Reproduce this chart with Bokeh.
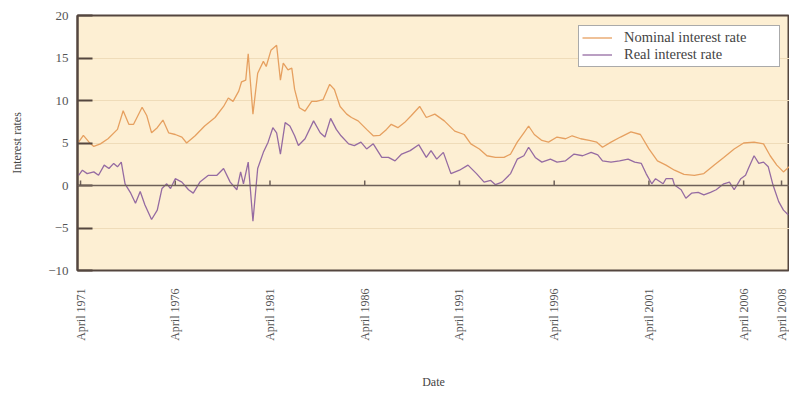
import math
from bokeh.plotting import figure
from bokeh.models import Range1d, FixedTicker, Span, Legend, LegendItem
from bokeh.embed import file_html
from bokeh.resources import INLINE

# ---- data ----
nom_year = [1971.15, 1971.4, 1971.7, 1971.95, 1972.3, 1972.7, 1973.2, 1973.5, 1973.8, 1974.05,
            1974.5, 1974.75, 1975.0, 1975.3, 1975.6, 1975.9, 1976.25, 1976.6, 1976.85, 1977.3,
            1977.8, 1978.35, 1978.8, 1979.05, 1979.3, 1979.6, 1979.75, 1979.97, 1980.1, 1980.35,
            1980.6, 1980.9, 1981.05, 1981.3, 1981.6, 1981.8, 1981.95, 1982.2, 1982.4, 1982.55,
            1982.8, 1983.1, 1983.45, 1983.7, 1984.05, 1984.4, 1984.65, 1984.95, 1985.3, 1985.55,
            1985.9, 1986.35, 1986.7, 1987.05, 1987.4, 1987.65, 1988.0, 1988.35, 1988.7, 1989.15,
            1989.5, 1989.95, 1990.45, 1991.0, 1991.5, 1991.85, 1992.3, 1992.7, 1993.15, 1993.6,
            1993.95, 1994.3, 1994.65, 1994.9, 1995.2, 1995.6, 1995.95, 1996.4, 1996.85, 1997.2,
            1997.65, 1998.1, 1998.5, 1998.8, 1999.25, 1999.75, 2000.3, 2000.8, 2001.25, 2001.7,
            2002.15, 2002.6, 2003.1, 2003.65, 2004.15, 2004.7, 2005.2, 2005.75, 2006.25, 2006.8,
            2007.3, 2007.65, 2008.0, 2008.35, 2008.65]
nominal = [5.1, 5.9, 5.1, 4.6, 4.9, 5.5, 6.6, 8.8, 7.2, 7.2,
           9.2, 8.2, 6.2, 6.8, 7.7, 6.2, 6.0, 5.7, 5.0, 5.85,
           7.0, 8.0, 9.3, 10.3, 9.9, 11.1, 12.2, 12.4, 15.5, 8.4,
           13.2, 14.6, 14.0, 15.9, 16.5, 12.4, 14.4, 13.6, 13.8, 11.3,
           9.15, 8.75, 9.9, 9.9, 10.1, 11.9, 11.3, 9.3, 8.4, 8.0,
           7.6, 6.6, 5.85, 5.9, 6.6, 7.2, 6.8, 7.4, 8.2, 9.3,
           8.0, 8.4, 7.6, 6.4, 6.0, 4.9, 4.3, 3.5, 3.3, 3.3,
           3.7, 5.1, 6.2, 7.0, 6.0, 5.3, 5.1, 5.7, 5.5, 5.85,
           5.5, 5.3, 5.1, 4.5, 5.1, 5.7, 6.3, 6.0, 4.3, 2.9,
           2.4, 1.8, 1.3, 1.2, 1.4, 2.4, 3.3, 4.3, 5.0, 5.1,
           4.9, 3.5, 2.4, 1.6, 2.2]

real_year = [1971.15, 1971.35, 1971.6, 1971.95, 1972.2, 1972.5, 1972.75, 1973.0, 1973.2, 1973.4,
             1973.6, 1973.9, 1974.15, 1974.4, 1974.65, 1975.0, 1975.3, 1975.55, 1975.8, 1976.0,
             1976.25, 1976.6, 1976.95, 1977.2, 1977.55, 1978.0, 1978.45, 1978.8, 1979.15, 1979.5,
             1979.7, 1979.85, 1980.1, 1980.35, 1980.6, 1980.9, 1981.15, 1981.4, 1981.6, 1981.8,
             1982.05, 1982.3, 1982.55, 1982.75, 1983.1, 1983.55, 1983.9, 1984.15, 1984.45, 1984.75,
             1985.0, 1985.4, 1985.7, 1986.05, 1986.35, 1986.7, 1987.15, 1987.5, 1987.85, 1988.2,
             1988.65, 1989.1, 1989.5, 1989.75, 1990.05, 1990.4, 1990.8, 1991.25, 1991.7, 1992.15,
             1992.55, 1992.9, 1993.15, 1993.5, 1993.95, 1994.3, 1994.65, 1994.9, 1995.25, 1995.6,
             1996.05, 1996.4, 1996.85, 1997.3, 1997.75, 1998.2, 1998.55, 1998.8, 1999.25, 1999.7,
             2000.15, 2000.5, 2000.85, 2001.1, 2001.4, 2001.6, 2002.0, 2002.15, 2002.5, 2002.6,
             2002.95, 2003.2, 2003.5, 2003.85, 2004.15, 2004.5, 2004.8, 2005.2, 2005.5, 2005.75,
             2006.1, 2006.35, 2006.5, 2006.8, 2007.05, 2007.3, 2007.55, 2007.8, 2008.1, 2008.35,
             2008.6]
real = [1.2, 1.8, 1.4, 1.6, 1.2, 2.4, 2.0, 2.6, 2.2, 2.75,
        0.2, -0.9, -2.1, -0.7, -2.3, -4.0, -2.9, -0.35, 0.2, -0.35,
        0.8, 0.4, -0.5, -0.9, 0.4, 1.2, 1.2, 2.0, 0.4, -0.5,
        1.6, 0.2, 2.75, -4.2, 2.0, 3.9, 5.1, 6.8, 6.2, 3.7,
        7.4, 7.0, 5.85, 4.7, 5.5, 7.6, 6.2, 5.7, 7.9, 6.6,
        5.85, 4.9, 4.7, 5.1, 4.3, 4.9, 3.3, 3.3, 2.9, 3.7,
        4.1, 4.8, 3.3, 4.1, 3.1, 3.9, 1.4, 1.8, 2.4, 1.4,
        0.4, 0.6, 0.1, 0.4, 1.4, 3.1, 3.5, 4.5, 3.3, 2.75,
        3.1, 2.75, 2.9, 3.7, 3.5, 3.9, 3.6, 2.9, 2.75, 2.9,
        3.1, 2.75, 2.6, 1.4, 0.2, 0.8, 0.2, 0.8, 0.8, 0.05,
        -0.5, -1.5, -0.9, -0.8, -1.1, -0.8, -0.5, 0.2, 0.4, -0.5,
        0.8, 1.2, 2.0, 3.5, 2.6, 2.75, 2.2, 0.05, -1.9, -2.9,
        -3.45]

x_ticks = [1971.25, 1976.25, 1981.25, 1986.25, 1991.25, 1996.25, 2001.25, 2006.25, 2008.25]
x_labels = ["April 1971", "April 1976", "April 1981", "April 1986", "April 1991",
            "April 1996", "April 2001", "April 2006", "April 2008"]
y_ticks = [-10, -5, 0, 5, 10, 15, 20]

SERIF = "Liberation Serif"
NOM_COLOR = "#e6a060"
REAL_COLOR = "#956ba2"
DARK = "#54463f"

p = figure(width=789, height=391, output_backend="svg", toolbar_location=None,
           x_range=Range1d(1971.09, 2008.67), y_range=Range1d(-10, 20),
           min_border_left=77, min_border_right=0, min_border_top=15, min_border_bottom=118)

p.background_fill_color = "#fdefd3"
p.border_fill_color = "white"
p.outline_line_color = DARK
p.outline_line_width = 2

# grid
p.xgrid.visible = False
p.ygrid.ticker = FixedTicker(ticks=[-5, 5, 10, 15])
p.ygrid.grid_line_color = "#efdcb9"
p.ygrid.grid_line_width = 1.2

# zero line
p.add_layout(Span(location=0, dimension="width", line_color="#6e6058", line_width=1.6))

# small ticks on zero line
p.segment(x0=x_ticks, y0=[0] * len(x_ticks), x1=x_ticks, y1=[0.6] * len(x_ticks),
          line_color="#6e6058", line_width=1.5)

r_nom = p.line(nom_year, nominal, line_color=NOM_COLOR, line_width=1.3)
r_real = p.line(real_year, real, line_color=REAL_COLOR, line_width=1.3)

# y axis
yax = p.yaxis[0]
yax.ticker = FixedTicker(ticks=y_ticks)
yax.major_tick_in = 15
yax.major_tick_out = 0
yax.major_tick_line_color = DARK
yax.major_tick_line_width = 2
yax.minor_tick_line_color = None
yax.axis_line_color = DARK
yax.axis_line_width = 2
yax.major_label_text_font = SERIF
yax.major_label_text_font_size = "13px"
yax.major_label_text_color = "#555555"
yax.major_label_standoff = 9
yax.axis_label = "Interest rates"
yax.axis_label_text_font = SERIF
yax.axis_label_text_font_size = "12px"
yax.axis_label_text_font_style = "normal"
yax.axis_label_text_color = "#444444"
yax.axis_label_standoff = 21

# x axis
xax = p.xaxis[0]
xax.ticker = FixedTicker(ticks=x_ticks)
xax.major_label_overrides = {t: l for t, l in zip(x_ticks, x_labels)}
xax.major_label_orientation = math.pi / 2
xax.major_tick_line_color = None
xax.minor_tick_line_color = None
xax.axis_line_color = None
xax.major_label_text_font = SERIF
xax.major_label_text_font_size = "12px"
xax.major_label_text_color = "#555555"
xax.major_label_standoff = 12
xax.axis_label = "Date"
xax.axis_label_text_font = SERIF
xax.axis_label_text_font_size = "12px"
xax.axis_label_text_font_style = "normal"
xax.axis_label_text_color = "#444444"
xax.axis_label_standoff = 31

legend = Legend(items=[LegendItem(label="Nominal interest rate", renderers=[r_nom]),
                       LegendItem(label="Real interest rate", renderers=[r_real])],
                location=(501, 203))
legend.margin = 0
legend.padding = 3
legend.spacing = 0
legend.glyph_width = 30
legend.glyph_height = 17
legend.label_height = 17
legend.label_width = 152
legend.label_standoff = 12
legend.label_text_font = SERIF
legend.label_text_font_size = "14.5px"
legend.label_text_color = "#444444"
legend.border_line_color = "#555555"
legend.border_line_width = 1.5
legend.background_fill_color = "white"
legend.background_fill_alpha = 1.0
p.add_layout(legend)

open("out.html", "w").write(file_html(p, INLINE))
